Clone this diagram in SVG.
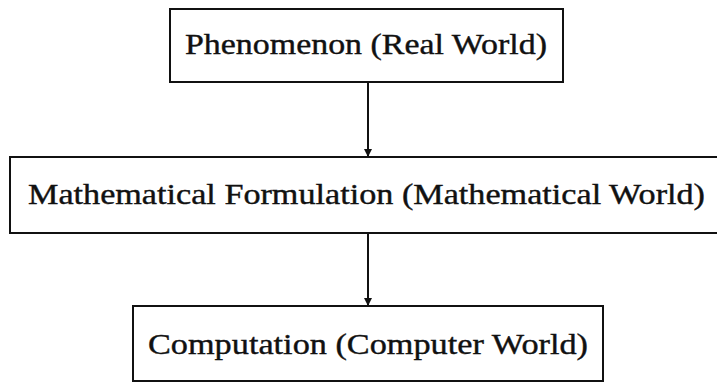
<svg xmlns="http://www.w3.org/2000/svg" width="717" height="383" viewBox="0 0 717 383">
<style>
.box{fill:#fff;stroke:#111;stroke-width:2}
.lbl{font-family:"Liberation Serif","DejaVu Serif",serif;font-size:30px;fill:#111;stroke:#111;stroke-width:0.4}
.edge{stroke:#111;stroke-width:2;fill:none}
</style>
<defs>
<marker id="ah" viewBox="0 0 10 10" refX="10" refY="5" markerWidth="4" markerHeight="4" orient="auto" markerUnits="strokeWidth">
<path d="M0,0 L10,5 L0,10 z" fill="#111"/>
</marker>
</defs>
<rect width="717" height="383" fill="#fff"/>
<g id="connectors">
<line class="edge" x1="368" y1="82" x2="368" y2="157" marker-end="url(#ah)"/>
<line class="edge" x1="368" y1="233" x2="368" y2="306" marker-end="url(#ah)"/>
</g>
<g id="node-phenomenon">
<rect class="box" x="170" y="9" width="393" height="73"/>
<text class="lbl" x="185" y="54" textLength="362" lengthAdjust="spacingAndGlyphs">Phenomenon (Real World)</text>
</g>
<g id="node-math">
<rect class="box" x="10" y="157" width="712" height="76"/>
<text class="lbl" x="28" y="204" textLength="677" lengthAdjust="spacingAndGlyphs">Mathematical Formulation (Mathematical World)</text>
</g>
<g id="node-computation">
<rect class="box" x="133" y="306" width="470" height="75"/>
<text class="lbl" x="148" y="354" textLength="440" lengthAdjust="spacingAndGlyphs">Computation (Computer World)</text>
</g>
</svg>
